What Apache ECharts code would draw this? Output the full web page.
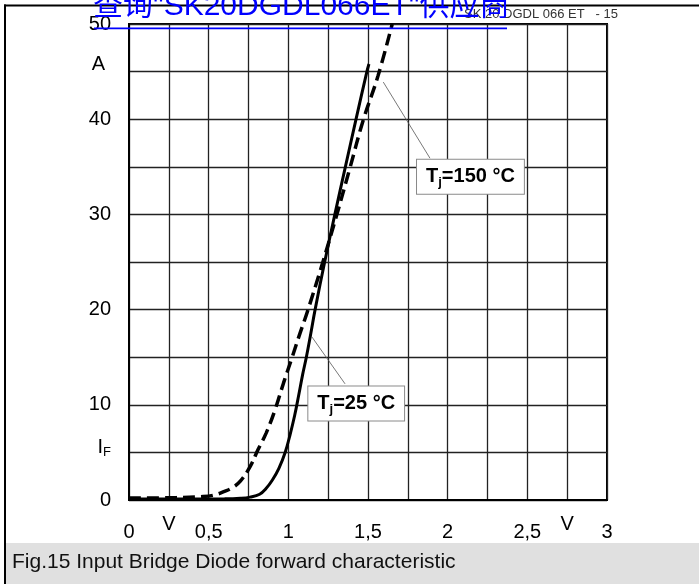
<!DOCTYPE html>
<html>
<head>
<meta charset="utf-8">
<script src="https://cdn.jsdelivr.net/npm/echarts@6/dist/echarts.min.js"></script>
<style>
  html, body { margin: 0; padding: 0; background: #fff; }
</style>
</head>
<body>
<div id="chart" style="width:699px;height:584px"></div>
<script>
// forward voltage V_F (V) and forward current I_F (A)
const volt25 = [0, 0.3, 0.6, 0.7, 0.76, 0.82, 0.86, 0.9, 0.94, 0.98, 1.01, 1.04, 1.065, 1.09, 1.113, 1.141, 1.168, 1.228, 1.292, 1.358, 1.425, 1.493, 1.506];
const amp25  = [0.1, 0.1, 0.12, 0.18, 0.3, 0.6, 1.2, 2.1, 3.3, 5.0, 6.8, 8.9, 11, 13.2, 15, 17.5, 20, 25, 30, 35, 40, 45, 45.8];
const volt150 = [0, 0.3, 0.45, 0.53, 0.6, 0.65, 0.7, 0.76, 0.81, 0.86, 0.915, 0.97, 1.02, 1.073, 1.12, 1.215, 1.303, 1.387, 1.47, 1.562, 1.652];
const amp150  = [0.2, 0.25, 0.35, 0.5, 0.9, 1.3, 2.0, 3.5, 5.3, 7.0, 9.4, 12.3, 14.8, 17.5, 19.8, 24.9, 29.9, 34.9, 39.9, 44.5, 50];

const xLabels = ['0', '0,5', '1', '1,5', '2', '2,5', '3'];
const yLabels = ['0', '10', '20', '30', '40', '50'];

const FONT = '"Liberation Sans", Arial, Helvetica, sans-serif';

function pairs(xs, ys) {
    return xs.map((x, i) => [x, ys[i]]);
}

const chart = echarts.init(document.getElementById('chart'));

const boxLabel = {
    show: true,
    position: 'inside',
    backgroundColor: '#fff',
    borderColor: '#8a8a8a',
    borderWidth: 1,
    padding: [5, 9, 5, 9],
    rich: {
        t: { fontFamily: FONT, fontSize: 20, fontWeight: 'bold', color: '#000', lineHeight: 24 },
        j: { fontFamily: FONT, fontSize: 13, fontWeight: 'bold', color: '#000', lineHeight: 10, verticalAlign: 'bottom' }
    }
};

const option = {
    animation: false,
    backgroundColor: '#fff',
    grid: {
        left: 129, top: 24, width: 478, height: 476,
        show: true, borderColor: '#000', borderWidth: 2, backgroundColor: 'transparent'
    },
    xAxis: [{
        type: 'value', min: 0, max: 3, interval: 0.25,
        axisLine: { show: true, lineStyle: { color: '#000', width: 2 } },
        axisTick: { show: false },
        splitLine: { show: true, lineStyle: { color: '#222', width: 1.3 } },
        axisLabel: {
            margin: 22, fontFamily: FONT, fontSize: 20, color: '#000',
            formatter: function (v) {
                const k = Math.round(v * 2);
                return Math.abs(v * 2 - k) < 1e-6 ? xLabels[k] : '';
            }
        }
    }, {
        type: 'value', min: 0, max: 3, interval: 0.25, position: 'bottom',
        axisLine: { show: false }, axisTick: { show: false }, splitLine: { show: false },
        axisLabel: {
            margin: 14, fontFamily: FONT, fontSize: 20, color: '#000',
            formatter: function (v) {
                return (Math.abs(v - 0.25) < 1e-6 || Math.abs(v - 2.75) < 1e-6) ? 'V' : '';
            }
        }
    }],
    yAxis: {
        type: 'value', min: 0, max: 50, interval: 5,
        axisLine: { show: true, lineStyle: { color: '#000', width: 2 } },
        axisTick: { show: false },
        splitLine: { show: true, lineStyle: { color: '#222', width: 1.3 } },
        axisLabel: {
            margin: 18, fontFamily: FONT, fontSize: 20, color: '#000',
            formatter: function (v) {
                if (v % 10 === 0) return yLabels[v / 10];
                if (v === 45) return '{a|A}';
                if (v === 5) return '{i|I}{s|F}';
                return '';
            },
            rich: {
                a: { fontFamily: FONT, fontSize: 20, color: '#000', padding: [0, 6, 14, 0] },
                i: { fontFamily: FONT, fontSize: 20, color: '#000', padding: [0, 0, 10, 0] },
                s: { fontFamily: FONT, fontSize: 13, color: '#000' }
            }
        }
    },
    graphic: [
        // outer frame
        { type: 'rect', shape: { x: 4, y: 4.5, width: 695, height: 2 }, style: { fill: '#000' }, z: 10 },
        { type: 'rect', shape: { x: 4, y: 4.5, width: 2, height: 580 }, style: { fill: '#000' }, z: 10 },
        // caption band
        { type: 'rect', shape: { x: 6, y: 543, width: 693, height: 41 }, style: { fill: '#e0e0e0' }, z: 1 },
        { type: 'text', x: 12, y: 562, z: 2,
          style: { text: 'Fig.15 Input Bridge Diode forward characteristic', font: '21px ' + FONT, fill: '#111', verticalAlign: 'middle' } },
        // page id
        { type: 'text', x: 464, y: 14, z: 2,
          style: { text: 'SK 20 DGDL 066 ET   - 15', font: '13px ' + FONT, fill: '#333', verticalAlign: 'middle' } },
        // blue link watermark
        { type: 'text', x: 93, y: 6.5, z: 20,
          style: { text: '查询"SK20DGDL066ET"供应商', font: '30px "Liberation Sans", "Noto Sans CJK SC", sans-serif', fill: '#0000ff', verticalAlign: 'middle' } },
        { type: 'rect', shape: { x: 94, y: 27.5, width: 413, height: 1.8 }, style: { fill: '#0000ff' }, z: 20 }
    ],
    series: [{
        name: 'Tj=25',
        type: 'line',
        data: pairs(volt25, amp25),
        showSymbol: false,
        smooth: 0.4,
        lineStyle: { color: '#000', width: 3 },
        z: 5,
        markLine: {
            silent: true, symbol: 'none', label: { show: false },
            lineStyle: { color: '#555', width: 0.8, type: 'solid' },
            data: [[{ coord: [1.147, 17.15] }, { coord: [1.356, 12.2] }]]
        },
        markPoint: {
            silent: true, symbol: 'rect', symbolSize: 1,
            itemStyle: { color: 'rgba(0,0,0,0)' },
            label: Object.assign({ formatter: '{t|T}{j|j}{t|=25 °C}' }, boxLabel),
            data: [{ coord: [1.426, 10.13] }]
        }
    }, {
        name: 'Tj=150',
        type: 'line',
        data: pairs(volt150, amp150),
        showSymbol: false,
        smooth: 0.4,
        lineStyle: { color: '#000', width: 3.5, type: [12, 6] },
        z: 5,
        markLine: {
            silent: true, symbol: 'none', label: { show: false },
            lineStyle: { color: '#555', width: 0.8, type: 'solid' },
            data: [[{ coord: [1.596, 43.9] }, { coord: [1.889, 35.9] }]]
        },
        markPoint: {
            silent: true, symbol: 'rect', symbolSize: 1,
            itemStyle: { color: 'rgba(0,0,0,0)' },
            label: Object.assign({ formatter: '{t|T}{j|j}{t|=150 °C}' }, boxLabel),
            data: [{ coord: [2.143, 33.95] }]
        }
    }]
};

chart.setOption(option);
window.addEventListener('resize', () => { chart.resize(); });
</script>
</body>
</html>
